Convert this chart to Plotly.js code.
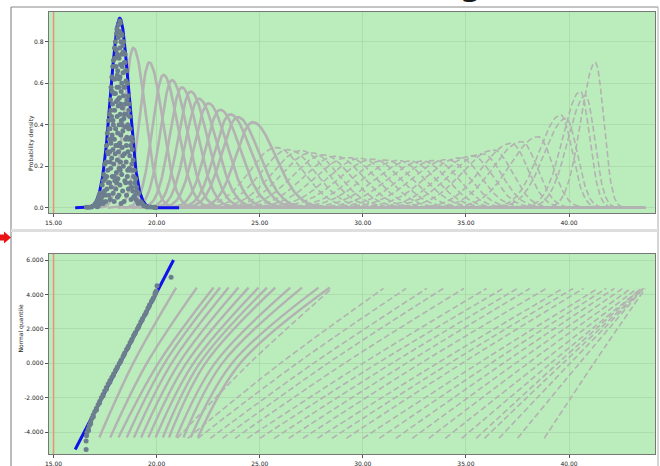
<!DOCTYPE html>
<html><head><meta charset="utf-8">
<script src="https://cdn.plot.ly/plotly-3.0.1.min.js"></script>
<style>html,body{margin:0;padding:0;background:#fff;}#chart{width:660px;height:466px;}</style>
</head><body><div id="chart"></div>
<script>
// ---------- tick labels ----------
const xTickVals = [15, 20, 25, 30, 35, 40];
const xTickText = ["15.00", "20.00", "25.00", "30.00", "35.00", "40.00"];
const pdfTickVals = [0, 0.2, 0.4, 0.6, 0.8];
const pdfTickText = ["0.0", "0.2", "0.4", "0.6", "0.8"];
const qTickVals = [-4, -2, 0, 2, 4, 6];
const qTickText = ["-4.000", "-2.000", "0.000", "2.000", "4.000", "6.000"];

// ---------- fitted normal (blue) ----------
const blueMean = 18.21;
const blueSd = 0.437;
const blueXRange = [16.05, 21.1];
const blueQQx = [16.05, 20.82];
const blueQQq = [-5.0, 6.0];

// ---------- solid gray density curves (mode, peak height, left/right spread) ----------
const sCenter = [18.87, 19.64, 20.33, 20.74, 21.22, 21.65, 22.05, 22.51, 23.08, 23.57, 23.93, 24.66];
const sPeak   = [0.77, 0.70, 0.64, 0.615, 0.58, 0.56, 0.525, 0.503, 0.472, 0.45, 0.437, 0.412];
const sSigL   = [0.44, 0.48, 0.53, 0.55, 0.58, 0.60, 0.64, 0.67, 0.71, 0.75, 0.77, 0.82];
const sSigR   = [0.58, 0.64, 0.70, 0.73, 0.77, 0.80, 0.85, 0.89, 0.95, 1.00, 1.03, 1.10];

// ---------- dashed gray density curves ----------
const dCenter = [25.8, 26.4, 27.0, 27.5, 28.1, 28.7, 29.3, 29.9, 30.5, 31.1, 31.7, 32.3, 32.9, 33.5, 34.1, 34.7, 35.3, 35.8, 36.35, 37.2, 37.7, 38.5, 39.6, 39.85, 40.55, 40.8, 41.28];
const dPeak   = [0.29, 0.28, 0.275, 0.265, 0.255, 0.248, 0.242, 0.238, 0.234, 0.23, 0.228, 0.225, 0.225, 0.228, 0.232, 0.24, 0.25, 0.26, 0.278, 0.31, 0.318, 0.342, 0.447, 0.43, 0.56, 0.54, 0.70];
const dSigL   = [1.3, 1.35, 1.4, 1.45, 1.5, 1.55, 1.6, 1.6, 1.65, 1.65, 1.7, 1.7, 1.7, 1.7, 1.7, 1.65, 1.6, 1.6, 1.55, 1.45, 1.4, 1.35, 1.05, 1.05, 0.85, 0.85, 0.7];
const dSigR   = [1.3, 1.3, 1.3, 1.3, 1.3, 1.3, 1.3, 1.3, 1.3, 1.3, 1.3, 1.25, 1.2, 1.15, 1.1, 1.05, 1.0, 0.95, 0.9, 0.8, 0.75, 0.7, 0.55, 0.55, 0.45, 0.45, 0.4];

// ---------- sample points, density panel ----------
const dotX = [16.60,16.72,16.85,16.95,17.02,17.05,17.10,17.13,17.15,17.18,17.20,17.22,17.25,17.28,17.30,
  17.32,17.36,17.41,17.44,17.47,17.49,
  17.51,17.53,17.55,17.57,17.59,17.61,17.63,17.65,17.67,17.68,17.70,
  17.71,17.72,17.73,17.74,17.75,17.76,17.77,17.78,17.79,17.80,17.81,17.82,17.83,17.84,17.85,17.86,17.87,17.88,17.89,
  17.90,17.91,17.92,17.93,17.94,17.95,17.955,17.96,17.97,17.98,17.99,18.00,18.01,18.02,18.03,18.04,18.05,18.06,18.07,18.08,18.085,18.09,18.10,18.095,18.075,
  18.11,18.115,18.12,18.13,18.14,18.15,18.155,18.16,18.17,18.175,18.18,18.185,18.19,18.20,18.205,18.21,18.22,18.225,18.23,18.24,18.245,18.25,18.26,18.27,18.275,18.28,18.29,
  18.30,18.305,18.31,18.32,18.33,18.34,18.35,18.355,18.36,18.37,18.38,18.39,18.40,18.41,18.42,18.43,18.44,18.45,18.46,18.47,18.475,18.48,18.49,18.495,
  18.51,18.52,18.53,18.54,18.55,18.56,18.57,18.58,18.59,18.60,18.61,18.62,18.63,18.65,18.66,18.68,18.69,
  18.71,18.72,18.74,18.76,18.78,18.80,18.82,18.84,18.86,18.89,
  18.92,18.95,18.98,19.02,19.07,19.13,19.22,19.30,19.38,19.45,19.55,19.70,19.85,19.95,
  17.35,17.42,17.50,17.58,17.62,17.66,17.69,17.74,17.78,17.81,17.85,17.88,17.92,17.94,17.97,18.00,18.02,18.04,18.07,18.09,
  18.12,18.14,18.17,18.19,18.21,18.23,18.26,18.28,18.31,18.33,18.36,18.38,18.41,18.44,18.46,18.50,18.53,18.57,18.60,18.64,
  18.67,18.70,18.75,18.79,18.83,18.88,18.94,19.00,19.05,19.10,17.26,17.12,17.08,17.38];
const dotY = [0.002,0.002,0.004,0.010,0.015,0.022,0.030,0.012,0.040,0.010,0.055,0.025,0.070,0.020,0.045,
  0.05,0.11,0.02,0.16,0.08,0.21,
  0.14,0.03,0.22,0.30,0.09,0.36,0.18,0.26,0.42,0.06,0.33,
  0.45,0.12,0.27,0.38,0.04,0.52,0.19,0.31,0.58,0.10,0.44,0.24,0.63,0.35,0.15,0.50,0.68,0.28,0.07,
  0.40,0.71,0.21,0.55,0.03,0.33,0.77,0.47,0.13,0.62,0.26,0.80,0.38,0.09,0.68,0.51,0.17,0.84,0.30,0.58,0.44,0.74,0.05,0.23,0.86,
  0.36,0.66,0.14,0.82,0.49,0.27,0.88,0.58,0.06,0.72,0.40,0.19,0.85,0.53,0.31,0.77,0.11,0.63,0.45,0.89,0.22,0.69,0.35,0.80,0.02,0.56,0.42,
  0.74,0.16,0.60,0.83,0.29,0.48,0.08,0.78,0.37,0.65,0.20,0.54,0.80,0.43,0.03,0.70,0.26,0.58,0.13,0.74,0.39,0.50,0.66,0.33,
  0.61,0.22,0.45,0.06,0.66,0.34,0.52,0.15,0.60,0.40,0.27,0.54,0.09,0.47,0.33,0.19,0.44,
  0.38,0.12,0.30,0.04,0.34,0.21,0.28,0.08,0.23,0.15,
  0.18,0.06,0.14,0.10,0.03,0.07,0.03,0.02,0.01,0.008,0.004,0.003,0.002,0.001,
  0.03,0.13,0.06,0.15,0.27,0.12,0.38,0.22,0.47,0.33,0.56,0.42,0.62,0.15,0.72,0.55,0.30,0.76,0.12,0.64,
  0.52,0.73,0.30,0.62,0.90,0.18,0.50,0.84,0.40,0.68,0.25,0.75,0.58,0.45,0.70,0.12,0.30,0.60,0.18,0.38,
  0.50,0.25,0.18,0.10,0.32,0.05,0.12,0.04,0.08,0.02,0.035,0.005,0.01,0.07];

// ---------- sample points, quantile panel ----------
const qqDotQ = [-5.0,-4.5,-4.2,-4.0,-3.8,-3.6,-3.4,-3.2,-3.0,-2.8,-2.6,-2.4,-2.2,-2.0,-1.8,-1.6,-1.4,-1.2,-1.0,-0.8,-0.6,-0.4,-0.2,0.0,0.2,0.4,0.6,0.8,1.0,1.2,1.4,1.6,1.8,2.0,2.2,2.4,2.6,2.8,3.0,3.2,3.4,3.6,3.8,4.0,4.2,4.5,5.0,
  -3.9,-3.5,-3.1,-2.7,-2.3,-1.9,-1.5,-1.1,-0.7,-0.3,0.1,0.5,0.9,1.3,1.7,2.1,2.5,2.9,3.3,3.7,4.1];
const qqDotX = [16.58,16.58,16.60,16.62,16.68,16.74,16.80,16.86,16.92,17.00,17.08,17.16,17.24,17.32,17.40,17.48,17.56,17.65,17.74,17.83,17.92,18.01,18.10,18.19,18.28,18.37,18.45,18.54,18.63,18.71,18.80,18.88,18.97,19.06,19.15,19.23,19.32,19.41,19.50,19.58,19.66,19.75,19.84,19.92,19.98,20.02,20.70,
  16.70,16.80,16.93,17.08,17.23,17.40,17.56,17.73,17.90,18.07,18.25,18.42,18.60,18.77,18.94,19.12,19.29,19.47,19.63,19.80,19.93];

// ---------- solid gray quantile curves: x at q = -4.3, 0, 4.4 ----------
const qsQ = [-4.3, 0, 4.4];
const qsBottom = [17.22, 17.75, 18.15, 18.55, 18.9, 19.25, 19.6, 19.95, 20.3, 20.6, 20.95, 21.3, 21.65, 22.0];
const qsMid    = [18.86, 19.52, 20.08, 20.38, 20.72, 21.08, 21.43, 21.78, 22.08, 22.36, 22.82, 23.18, 23.65, 24.05];
const qsTop    = [20.95, 21.95, 22.76, 23.08, 23.49, 23.97, 24.46, 24.94, 25.35, 25.75, 26.48, 27.05, 27.85, 28.4];

// ---------- dashed gray quantile curves: x at q = -4.35, 0, 4.35 ----------
const qdQ = [-4.35, 0, 4.35];
const qdBottom = [21.0, 21.5, 22.0, 22.6, 23.2, 23.8, 24.4, 25.0, 25.7, 26.4, 27.1, 27.8, 28.5, 29.2, 30.0, 30.8, 31.6, 32.4, 33.2, 34.0, 34.8, 35.5, 35.9, 36.6, 37.5, 38.8];
const qdMid    = [24.5, 26.0, 26.8, 27.6, 28.3, 29.1, 30.0, 30.7, 31.4, 32.1, 32.8, 33.6, 34.2, 34.8, 35.6, 36.2, 36.8, 37.4, 38.0, 38.6, 39.1, 39.45, 39.7, 40.05, 40.5, 41.2];
const qdTop    = [28.5, 31.0, 32.1, 33.1, 33.9, 34.9, 36.0, 36.8, 37.5, 38.1, 38.9, 39.7, 40.2, 40.7, 41.4, 41.8, 42.2, 42.6, 43.0, 43.3, 43.5, 43.5, 43.6, 43.6, 43.6, 43.7];

const xEnd = 43.7;

// ---------- style ----------
const GREEN = 'rgb(187,236,187)';
const GRAY = 'rgb(178,178,178)';
const DOT = 'rgb(108,126,142)';
const BLUE = 'rgb(18,18,235)';
const DASH = '6px,3px';

function splitCurve(c, p, sl, sr) {
  const xs = [], ys = [];
  const start = c - 4.2 * sl;
  for (let x = start; x <= xEnd + 1e-9; x += 0.04) {
    const s = x < c ? sl : sr;
    const z = (x - c) / s;
    xs.push(x); ys.push(p * Math.exp(-0.5 * z * z));
  }
  return {xs, ys};
}

const traces = [];
for (let i = 0; i < dCenter.length; i++) {
  const cv = splitCurve(dCenter[i], dPeak[i], dSigL[i], dSigR[i]);
  traces.push({x: cv.xs, y: cv.ys, xaxis: 'x', yaxis: 'y', mode: 'lines', line: {color: GRAY, width: 1.6, dash: DASH}, hoverinfo: 'skip', showlegend: false});
}
for (let i = sCenter.length - 1; i >= 0; i--) {
  const cv = splitCurve(sCenter[i], sPeak[i], sSigL[i], sSigR[i]);
  traces.push({x: cv.xs, y: cv.ys, xaxis: 'x', yaxis: 'y', mode: 'lines', line: {color: GRAY, width: 2.6}, hoverinfo: 'skip', showlegend: false});
}
(function () {
  const xs = [], ys = [];
  const pk = 1 / (blueSd * Math.sqrt(2 * Math.PI));
  for (let x = blueXRange[0]; x <= blueXRange[1] + 1e-9; x += 0.02) {
    const z = (x - blueMean) / blueSd;
    xs.push(x); ys.push(pk * Math.exp(-0.5 * z * z));
  }
  traces.push({x: xs, y: ys, xaxis: 'x', yaxis: 'y', mode: 'lines', line: {color: BLUE, width: 3}, hoverinfo: 'skip', showlegend: false});
})();
traces.push({x: dotX, y: dotY, xaxis: 'x', yaxis: 'y', mode: 'markers', marker: {color: DOT, size: 5}, hoverinfo: 'skip', showlegend: false});

for (let i = 0; i < qdBottom.length; i++) {
  traces.push({x: [qdBottom[i], qdMid[i], qdTop[i]], y: qdQ, xaxis: 'x2', yaxis: 'y2', mode: 'lines', line: {color: GRAY, width: 1.6, dash: DASH, shape: 'spline'}, hoverinfo: 'skip', showlegend: false});
}
for (let i = 0; i < qsBottom.length; i++) {
  traces.push({x: [qsBottom[i], qsMid[i], qsTop[i]], y: qsQ, xaxis: 'x2', yaxis: 'y2', mode: 'lines', line: {color: GRAY, width: 2.4, shape: 'spline'}, hoverinfo: 'skip', showlegend: false});
}
traces.push({x: blueQQx, y: blueQQq, xaxis: 'x2', yaxis: 'y2', mode: 'lines', line: {color: BLUE, width: 3}, hoverinfo: 'skip', showlegend: false});
traces.push({x: qqDotX, y: qqDotQ, xaxis: 'x2', yaxis: 'y2', mode: 'markers', marker: {color: DOT, size: 5}, hoverinfo: 'skip', showlegend: false});

// ---------- layout ----------
const W = 660, H = 466;
const px = v => v / W, py = v => 1 - v / H;
const tickFont = {size: 6, color: '#222', family: 'DejaVu Sans'};
const GRID = 'rgba(130,165,130,0.22)';
function xAxis(anchor) {
  return {domain: [px(49), px(655)], anchor: anchor, range: [14.78, 44.17], tickmode: 'array', tickvals: xTickVals, ticktext: xTickText,
    ticks: 'outside', ticklen: 3, tickwidth: 1, tickcolor: '#555', tickfont: tickFont, showgrid: true, gridcolor: GRID, gridwidth: 1,
    zeroline: false, showline: true, mirror: true, linecolor: '#777', linewidth: 1.3, automargin: false, fixedrange: true};
}
function yAxis(anchor, dom, rng, tv, tt) {
  return {domain: dom, anchor: anchor, range: rng, tickmode: 'array', tickvals: tv, ticktext: tt,
    ticks: 'outside', ticklen: 3, tickwidth: 1, tickcolor: '#555', tickfont: tickFont, showgrid: true, gridcolor: GRID, gridwidth: 1,
    zeroline: false, showline: true, mirror: true, linecolor: '#777', linewidth: 1.3, automargin: false, fixedrange: true};
}
const P = (x, y) => px(x).toFixed(5) + ',' + py(y).toFixed(5);
const arrowPath = 'M' + P(0, 234.5) + ' L' + P(4, 234.5) + ' L' + P(4, 231.5) + ' L' + P(11, 237.5) + ' L' + P(4, 243.5) + ' L' + P(4, 240.5) + ' L' + P(0, 240.5) + ' Z';

const layout = {
  width: W, height: H, margin: {l: 0, r: 0, t: 0, b: 0}, paper_bgcolor: '#fff', plot_bgcolor: GREEN, showlegend: false,
  xaxis: xAxis('y'),
  yaxis: yAxis('x', [py(213), py(12)], [-0.0255, 0.943], pdfTickVals, pdfTickText),
  xaxis2: xAxis('y2'),
  yaxis2: yAxis('x2', [py(454), py(254)], [-5.26, 6.35], qTickVals, qTickText),
  shapes: [
    {type: 'line', xref: 'x', yref: 'y domain', x0: 15, x1: 15, y0: 0, y1: 1, line: {color: 'rgb(240,140,128)', width: 1.5}},
    {type: 'line', xref: 'x2', yref: 'y2 domain', x0: 15, x1: 15, y0: 0, y1: 1, line: {color: 'rgb(240,140,128)', width: 1.5}},
    {type: 'line', xref: 'paper', yref: 'paper', x0: px(11), x1: px(11), y0: py(7), y1: py(466), line: {color: '#777', width: 1}},
    {type: 'line', xref: 'paper', yref: 'paper', x0: px(11), x1: px(658), y0: py(7), y1: py(7), line: {color: '#888', width: 1}},
    {type: 'line', xref: 'paper', yref: 'paper', x0: px(658), x1: px(658), y0: py(7), y1: py(466), line: {color: '#aaa', width: 1}},
    {type: 'rect', xref: 'paper', yref: 'paper', x0: px(11), x1: px(658), y0: py(232), y1: py(229), fillcolor: '#dedede', line: {width: 0}},
    {type: 'path', xref: 'paper', yref: 'paper', path: arrowPath, fillcolor: 'rgb(235,20,20)', line: {width: 0}}
  ],
  annotations: [
    {text: 'Probability density', xref: 'paper', yref: 'paper', x: px(25), y: py(113), textangle: -90, showarrow: false, font: {size: 6, color: '#222', family: 'DejaVu Sans'}},
    {text: 'Normal quantile', xref: 'paper', yref: 'paper', x: px(14.5), y: py(355), textangle: -90, showarrow: false, font: {size: 6, color: '#222', family: 'DejaVu Sans'}},
    {text: '<b>g</b>', xref: 'paper', yref: 'paper', x: px(470), y: py(4.5), xanchor: 'center', yanchor: 'bottom', showarrow: false, font: {size: 30, color: '#1a1a1a', family: 'DejaVu Sans'}}
  ]
};
Plotly.newPlot('chart', traces, layout, {staticPlot: true, displayModeBar: false});
</script></body></html>
